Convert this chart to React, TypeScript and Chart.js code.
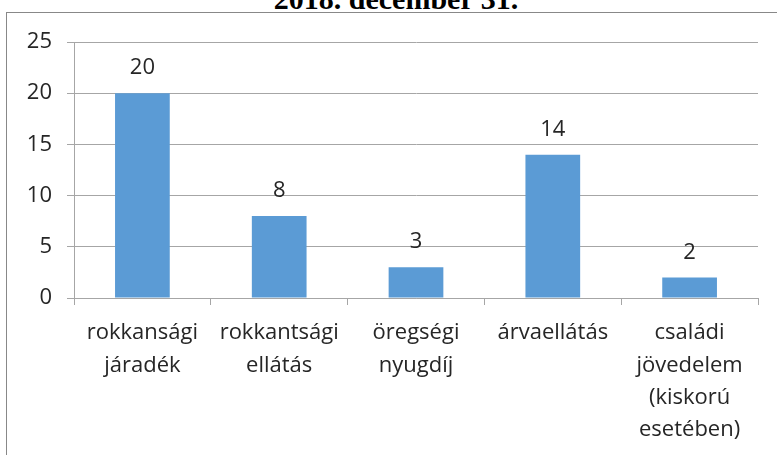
import React, { useEffect, useRef } from "react";
import { Chart, registerables } from "chart.js";

Chart.register(...registerables);

const categories: (string | string[])[] = [
  ["rokkansági", "járadék"],
  ["rokkantsági", "ellátás"],
  ["öregségi", "nyugdíj"],
  "árvaellátás",
  ["családi", "jövedelem", "(kiskorú", "esetében)"],
];
const values = [20, 8, 3, 14, 2];
const yTicks = [0, 5, 10, 15, 20, 25];
const titleText = "2018. december 31.";

const FONT = "'Open Sans', sans-serif";
const TEXT_COLOR = "#262626";
const GRID = "#a6a6a6";

const valueLabels = {
  id: "valueLabels",
  afterDatasetsDraw(chart: any) {
    const ctx = chart.ctx;
    const meta = chart.getDatasetMeta(0);
    ctx.save();
    ctx.font = `22px ${FONT}`;
    ctx.fillStyle = TEXT_COLOR;
    ctx.textAlign = "center";
    ctx.textBaseline = "alphabetic";
    meta.data.forEach((bar: any, i: number) => {
      ctx.fillText(String(chart.data.datasets[0].data[i]), bar.x, bar.y - 19);
    });
    ctx.restore();
  },
};

export default function App() {
  const ref = useRef<HTMLCanvasElement>(null);
  useEffect(() => {
    document.body.style.margin = "0";
    const chart = new Chart(ref.current!, {
      type: "bar",
      data: {
        labels: categories,
        datasets: [
          {
            data: values,
            backgroundColor: "#5b9bd5",
            barPercentage: 0.4,
            categoryPercentage: 1,
          },
        ],
      },
      options: {
        animation: false,
        responsive: false,
        maintainAspectRatio: false,
        layout: { padding: { top: 42, right: 19, left: 0, bottom: 0 } },
        plugins: {
          legend: { display: false },
          title: { display: false },
          tooltip: { enabled: false },
        },
        scales: {
          x: {
            offset: true,
            grid: {
              offset: true,
              drawOnChartArea: false,
              drawTicks: true,
              tickLength: 7,
              color: GRID,
            },
            border: { color: GRID, width: 1 },
            ticks: {
              color: TEXT_COLOR,
              font: { family: FONT, size: 22, lineHeight: "32.3px" },
              padding: 12,
              maxRotation: 0,
              autoSkip: false,
            },
            afterFit(scale: any) {
              scale.height = 455 - 298;
            },
          },
          y: {
            min: 0,
            max: 25,
            afterBuildTicks(scale: any) {
              scale.ticks = yTicks.map((v) => ({ value: v }));
            },
            grid: { color: GRID, tickLength: 7 },
            border: { color: GRID, width: 1 },
            ticks: {
              color: TEXT_COLOR,
              font: { family: FONT, size: 22 },
              padding: 15,
            },
            afterFit(scale: any) {
              scale.width = 74;
            },
          },
        },
      },
      plugins: [valueLabels],
    });
    return () => chart.destroy();
  }, []);

  return (
    <div style={{ position: "fixed", left: 0, top: 0, width: 777, height: 455, overflow: "hidden", background: "#fff" }}>
      <div
        style={{
          position: "absolute",
          left: 6,
          top: 12,
          width: 800,
          height: 500,
          borderLeft: "1px solid #888",
          borderTop: "1px solid #888",
        }}
      />
      <div
        style={{
          position: "absolute",
          left: 0,
          width: 792,
          top: -16,
          textAlign: "center",
          fontFamily: "'Liberation Serif', serif",
          fontWeight: "bold",
          fontSize: 30,
          lineHeight: "30px",
          color: "#000",
        }}
      >
        {titleText}
      </div>
      <canvas ref={ref} width={777} height={455} style={{ position: "absolute", left: 0, top: 0 }} />
    </div>
  );
}
